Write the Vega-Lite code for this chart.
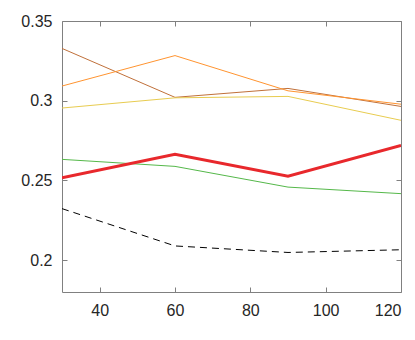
{
  "$schema": "https://vega.github.io/schema/vega-lite/v6.json",
  "autosize": "none",
  "padding": {"left": 62, "top": 21, "right": 14, "bottom": 48},
  "width": 339,
  "height": 271,
  "background": "white",
  "config": {
    "view": {"stroke": "#808080", "strokeWidth": 1},
    "axis": {
      "labelFont": "Liberation Sans",
      "labelFontSize": 16,
      "labelColor": "#262626",
      "domain": false,
      "tickColor": "#808080",
      "tickSize": 5,
      "offset": -5,
      "grid": false,
      "title": null
    }
  },
  "data": {
    "values": [
      {"x": 30, "y": 0.3328, "s": "brown"},
      {"x": 60, "y": 0.3021, "s": "brown"},
      {"x": 90, "y": 0.3077, "s": "brown"},
      {"x": 120, "y": 0.2964, "s": "brown"},
      {"x": 30, "y": 0.3092, "s": "orange"},
      {"x": 60, "y": 0.3283, "s": "orange"},
      {"x": 90, "y": 0.3062, "s": "orange"},
      {"x": 120, "y": 0.2978, "s": "orange"},
      {"x": 30, "y": 0.2954, "s": "yellow"},
      {"x": 60, "y": 0.3018, "s": "yellow"},
      {"x": 90, "y": 0.3027, "s": "yellow"},
      {"x": 120, "y": 0.2877, "s": "yellow"},
      {"x": 30, "y": 0.2632, "s": "green"},
      {"x": 60, "y": 0.2588, "s": "green"},
      {"x": 90, "y": 0.2458, "s": "green"},
      {"x": 120, "y": 0.2417, "s": "green"},
      {"x": 30, "y": 0.2323, "s": "black"},
      {"x": 60, "y": 0.2089, "s": "black"},
      {"x": 90, "y": 0.2048, "s": "black"},
      {"x": 120, "y": 0.2065, "s": "black"},
      {"x": 30, "y": 0.2517, "s": "red"},
      {"x": 60, "y": 0.2664, "s": "red"},
      {"x": 90, "y": 0.2527, "s": "red"},
      {"x": 120, "y": 0.2719, "s": "red"}
    ]
  },
  "layer": [
    {
      "mark": {"type": "rule", "opacity": 0},
      "encoding": {
        "x": {"field": "x", "type": "quantitative", "scale": {"domain": [30, 120], "nice": false, "zero": false},
          "axis": {"orient": "top", "labels": false, "values": [40, 60, 80, 100, 120]}},
        "y": {"field": "y", "type": "quantitative", "scale": {"domain": [0.18, 0.35], "nice": false, "zero": false},
          "axis": {"orient": "right", "labels": false, "values": [0.2, 0.25, 0.3, 0.35]}}
      }
    },
    {
      "mark": {"type": "line", "strokeWidth": 1, "clip": true},
      "transform": [{"filter": "datum.s != 'red' && datum.s != 'black'"}],
      "encoding": {
        "x": {"field": "x", "type": "quantitative", "scale": {"domain": [30, 120], "nice": false, "zero": false},
          "axis": {"orient": "bottom", "values": [40, 60, 80, 100, 120], "labelPadding": 10}},
        "y": {"field": "y", "type": "quantitative", "scale": {"domain": [0.18, 0.35], "nice": false, "zero": false},
          "axis": {"orient": "left", "values": [0.2, 0.25, 0.3, 0.35], "labelPadding": 10, "labelExpr": "'' + datum.value"}},
        "color": {"field": "s", "type": "nominal", "legend": null,
          "scale": {"domain": ["brown", "orange", "yellow", "green"], "range": ["#c0703a", "#ff9430", "#e8cc50", "#55b84a"]}}
      }
    },
    {
      "mark": {"type": "line", "strokeWidth": 1, "color": "#000000", "strokeDash": [7, 5], "clip": true},
      "transform": [{"filter": "datum.s == 'black'"}],
      "encoding": {
        "x": {"field": "x", "type": "quantitative", "scale": {"domain": [30, 120], "nice": false, "zero": false}, "axis": null},
        "y": {"field": "y", "type": "quantitative", "scale": {"domain": [0.18, 0.35], "nice": false, "zero": false}, "axis": null}
      }
    },
    {
      "mark": {"type": "line", "strokeWidth": 3, "color": "#e8282c", "clip": true},
      "transform": [{"filter": "datum.s == 'red'"}],
      "encoding": {
        "x": {"field": "x", "type": "quantitative", "scale": {"domain": [30, 120], "nice": false, "zero": false}, "axis": null},
        "y": {"field": "y", "type": "quantitative", "scale": {"domain": [0.18, 0.35], "nice": false, "zero": false}, "axis": null}
      }
    }
  ],
  "resolve": {"scale": {"x": "independent", "y": "independent"}}
}
